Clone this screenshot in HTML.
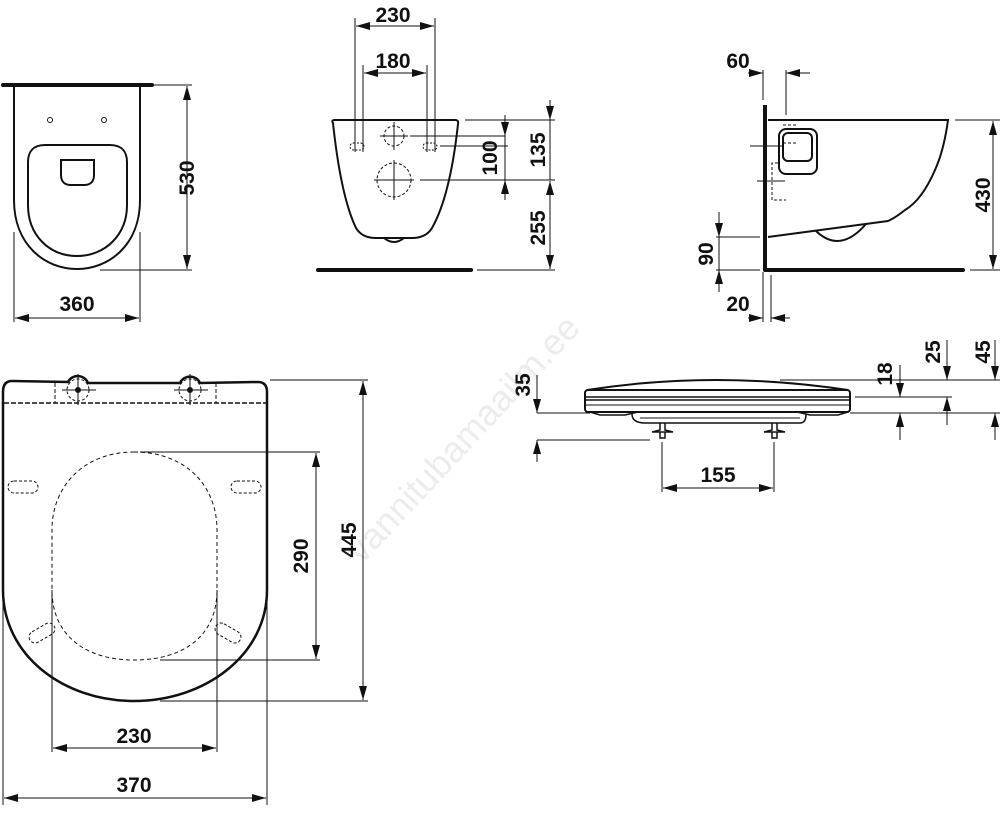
<!DOCTYPE html>
<html><head><meta charset="utf-8"><style>
html,body{margin:0;padding:0;background:#fff;}
svg{display:block}
text{font-family:"Liberation Sans",sans-serif;font-weight:bold;font-size:21px;fill:#111;}
</style></head><body>
<svg width="1000" height="815" viewBox="0 0 1000 815" xmlns="http://www.w3.org/2000/svg">
<defs>
<marker id="a" markerUnits="userSpaceOnUse" markerWidth="14" markerHeight="8" refX="14" refY="4" orient="auto"><path d="M0,0 L14,4 L0,8 Z" fill="#111"/></marker>
<marker id="b" markerUnits="userSpaceOnUse" markerWidth="14" markerHeight="8" refX="0" refY="4" orient="auto"><path d="M14,0 L0,4 L14,8 Z" fill="#111"/></marker>
</defs>
<text x="0" y="0" transform="translate(362,565) rotate(-47)" style="font-weight:normal;font-size:36px;fill:#ececec">vannitubamaailm.ee</text>
<g fill="none" stroke="#111" stroke-width="1">

<!-- ===== Top-left view ===== -->
<line x1="3" y1="85" x2="152" y2="85" stroke-width="4" stroke-linecap="round"/>
<path d="M14,87 L14,200 C14,245 45,269 77,269 C109,269 140,245 140,200 L140,87" stroke-width="2"/>
<path d="M45,145 L110,145 C122,145 127,152 127,162 L127,205 C127,235 105,256 77,256 C49,256 28,235 28,205 L28,162 C28,152 33,145 45,145 Z" stroke-width="2"/>
<path d="M61,160 L94,160 L94,175 C94,182 90,185 84,185 L71,185 C65,185 61,182 61,175 Z" stroke-width="2"/>
<circle cx="50" cy="120" r="2.5"/><circle cx="104" cy="120" r="2.5"/>
<line x1="148" y1="85" x2="192" y2="85"/>
<line x1="100" y1="270" x2="192" y2="270"/>
<line x1="187" y1="86" x2="187" y2="269" marker-start="url(#b)" marker-end="url(#a)"/>
<line x1="14" y1="232" x2="14" y2="322"/>
<line x1="140" y1="232" x2="140" y2="322"/>
<line x1="15" y1="318" x2="139" y2="318" marker-start="url(#b)" marker-end="url(#a)"/>

<!-- ===== Middle front view ===== -->
<path d="M333,123 Q331,120 335,120 L455,120 Q459,120 458,124 C453,170 445,205 432,228 Q426,238 412,238 L376,238 Q362,238 356,228 C345,205 338,170 333,123 Z" stroke-width="2"/>
<path d="M384,238 Q394,246 404,238" stroke-width="2"/>
<line x1="318" y1="270" x2="471" y2="270" stroke-width="4" stroke-linecap="round"/>
<circle cx="394" cy="136" r="10" stroke-dasharray="3,2"/>
<circle cx="394" cy="180" r="17" stroke-dasharray="3,2"/>
<line x1="380" y1="136" x2="408" y2="136"/><line x1="394" y1="122" x2="394" y2="150"/>
<line x1="374" y1="180" x2="414" y2="180"/><line x1="394" y1="160" x2="394" y2="200"/>
<rect x="350" y="143" width="14" height="7" rx="3.5" stroke-dasharray="2,1.5"/>
<rect x="423" y="143" width="14" height="7" rx="3.5" stroke-dasharray="2,1.5"/>
<line x1="355" y1="18" x2="355" y2="152"/><line x1="435" y1="18" x2="435" y2="152"/>
<line x1="363" y1="65" x2="363" y2="152"/><line x1="427" y1="65" x2="427" y2="152"/>
<line x1="356" y1="26" x2="434" y2="26" marker-start="url(#b)" marker-end="url(#a)"/>
<line x1="364" y1="73" x2="426" y2="73" marker-start="url(#b)" marker-end="url(#a)"/>
<line x1="410" y1="136" x2="505" y2="136"/>
<line x1="440" y1="146" x2="508" y2="146"/>
<line x1="420" y1="180" x2="555" y2="180"/>
<line x1="465" y1="120" x2="555" y2="120"/>
<line x1="477" y1="270" x2="555" y2="270"/>
<line x1="505" y1="115" x2="505" y2="136" marker-end="url(#a)"/>
<line x1="505" y1="200" x2="505" y2="180" marker-end="url(#a)"/>
<line x1="505" y1="136" x2="505" y2="180"/>
<line x1="550" y1="100" x2="550" y2="120" marker-end="url(#a)"/>
<line x1="550" y1="120" x2="550" y2="180"/>
<line x1="550" y1="181" x2="550" y2="269" marker-start="url(#b)" marker-end="url(#a)"/>

<!-- ===== Right side view ===== -->
<line x1="765" y1="105" x2="765" y2="270" stroke-width="4"/>
<line x1="765" y1="270" x2="963" y2="270" stroke-width="4" stroke-linecap="round"/>
<path d="M768,120 L948,120 Q944,150 935,170 Q922,200 905,210 Q895,218 888,221 L768,237" stroke-width="2"/>
<path d="M816,231 Q840,254 866,224" stroke-width="2"/>
<rect x="779" y="129" width="38" height="45" rx="7" stroke-width="2"/>
<rect x="783" y="133" width="29" height="28" rx="5" stroke-width="2"/>
<path d="M783,125 L797,125 M783,143 L797,143 M778,163 L772,163 L772,200 L786,200" stroke-dasharray="3,2"/>
<line x1="750" y1="146" x2="783" y2="146"/>
<line x1="757" y1="181" x2="785" y2="181"/>
<line x1="763" y1="70" x2="763" y2="100"/>
<line x1="786" y1="70" x2="786" y2="115"/>
<line x1="748" y1="73" x2="763" y2="73" marker-end="url(#a)"/>
<line x1="810" y1="73" x2="786" y2="73" marker-end="url(#a)"/>
<line x1="955" y1="120" x2="1000" y2="120"/>
<line x1="970" y1="270" x2="1000" y2="270"/>
<line x1="993" y1="121" x2="993" y2="269" marker-start="url(#b)" marker-end="url(#a)"/>
<line x1="716" y1="237" x2="760" y2="237"/>
<line x1="716" y1="270" x2="760" y2="270"/>
<line x1="719" y1="212" x2="719" y2="237" marker-end="url(#a)"/>
<line x1="719" y1="292" x2="719" y2="270" marker-end="url(#a)"/>
<line x1="719" y1="237" x2="719" y2="270"/>
<line x1="763" y1="272" x2="763" y2="322"/>
<line x1="771" y1="275" x2="771" y2="322"/>
<line x1="748" y1="318" x2="763" y2="318" marker-end="url(#a)"/>
<line x1="790" y1="318" x2="771" y2="318" marker-end="url(#a)"/>

<!-- ===== Seat side view ===== -->
<path d="M587,390 Q715,370 848,390" stroke-width="2"/>
<rect x="585" y="390" width="265" height="22" rx="3" stroke-width="2"/>
<line x1="585" y1="397" x2="850" y2="397" stroke-width="1.5"/>
<line x1="585" y1="400" x2="850" y2="400" stroke-width="1.5"/>
<line x1="585" y1="405" x2="850" y2="405"/>
<path d="M590,412 L600,415 L625,415 L638,412 M797,412 L810,415 L838,415 L848,412" stroke-width="1.5"/>
<path d="M632,414 Q632,423 645,423 L800,423 Q806,423 806,414" stroke-width="1.5"/>
<line x1="640" y1="418" x2="800" y2="418"/>
<path d="M660,423 L660,430 L652,432 L673,432 L665,430 L665,423 M660,432 L660,438 L665,438 L665,432" stroke-width="1.5"/>
<path d="M772,423 L772,430 L764,432 L785,432 L777,430 L777,423 M772,432 L772,438 L777,438 L777,432" stroke-width="1.5"/>
<line x1="537" y1="413" x2="590" y2="413"/>
<line x1="537" y1="440" x2="650" y2="440"/>
<line x1="537" y1="375" x2="537" y2="413" marker-end="url(#a)"/>
<line x1="537" y1="462" x2="537" y2="440" marker-end="url(#a)"/>
<line x1="662" y1="442" x2="662" y2="492"/>
<line x1="774" y1="442" x2="774" y2="492"/>
<line x1="663" y1="488" x2="773" y2="488" marker-start="url(#b)" marker-end="url(#a)"/>
<line x1="780" y1="380" x2="1000" y2="380"/>
<line x1="855" y1="397" x2="952" y2="397"/>
<line x1="850" y1="413" x2="1000" y2="413"/>
<line x1="900" y1="365" x2="900" y2="397" marker-end="url(#a)"/>
<line x1="900" y1="440" x2="900" y2="413" marker-end="url(#a)"/>
<line x1="947" y1="340" x2="947" y2="380" marker-end="url(#a)"/>
<line x1="947" y1="425" x2="947" y2="397" marker-end="url(#a)"/>
<line x1="995" y1="340" x2="995" y2="380" marker-end="url(#a)"/>
<line x1="995" y1="440" x2="995" y2="413" marker-end="url(#a)"/>

<!-- ===== Seat top view ===== -->
<path d="M3,392 Q3,381 12,381 L68,382 A11,11 0 0 1 88,383 L180,383 A11,11 0 0 1 200,383 L258,382 Q267,382 267,392 L267,590 C267,655 205,701 134,701 C63,701 3,655 3,590 Z" stroke-width="2.5"/>
<line x1="4" y1="403" x2="266" y2="403" stroke-dasharray="5,2" stroke-width="1.5"/>
<path d="M55,383 L55,403 M216,383 L216,403" stroke-dasharray="4,2"/>
<circle cx="78" cy="390" r="11" stroke-dasharray="3,2"/>
<circle cx="190" cy="390" r="11" stroke-dasharray="3,2"/>
<circle cx="78" cy="390" r="2.5" fill="#111"/><circle cx="190" cy="390" r="2.5" fill="#111"/>
<path d="M62,390 L96,390 M78,374 L78,405 M174,390 L208,390 M190,374 L190,405"/>
<path d="M134,452 C185,452 217,485 217,530 L217,590 C217,635 185,660 134,660 C85,660 52,635 52,590 L52,530 C52,485 85,452 134,452 Z" stroke-dasharray="4,3"/>
<rect x="8" y="481" width="30" height="12" rx="6" stroke-dasharray="3,2"/>
<rect x="231" y="481" width="30" height="12" rx="6" stroke-dasharray="3,2"/>
<rect x="28" y="627" width="28" height="12" rx="6" stroke-dasharray="3,2" transform="rotate(-30 42 633)"/>
<rect x="214" y="627" width="28" height="12" rx="6" stroke-dasharray="3,2" transform="rotate(30 228 633)"/>
<line x1="140" y1="452" x2="320" y2="452"/>
<line x1="160" y1="660" x2="320" y2="660"/>
<line x1="316" y1="453" x2="316" y2="659" marker-start="url(#b)" marker-end="url(#a)"/>
<line x1="270" y1="380" x2="368" y2="380"/>
<line x1="160" y1="701" x2="368" y2="701"/>
<line x1="363" y1="381" x2="363" y2="700" marker-start="url(#b)" marker-end="url(#a)"/>
<line x1="52" y1="590" x2="52" y2="752"/>
<line x1="217" y1="590" x2="217" y2="752"/>
<line x1="53" y1="748" x2="216" y2="748" marker-start="url(#b)" marker-end="url(#a)"/>
<line x1="3" y1="600" x2="3" y2="805"/>
<line x1="267" y1="600" x2="267" y2="805"/>
<line x1="4" y1="798" x2="266" y2="798" marker-start="url(#b)" marker-end="url(#a)"/>
</g>

<g text-anchor="middle">
<text x="77" y="311">360</text>
<text transform="translate(194,178) rotate(-90)">530</text>
<text x="393" y="22">230</text>
<text x="393" y="68">180</text>
<text transform="translate(497,158) rotate(-90)">100</text>
<text transform="translate(545,150) rotate(-90)">135</text>
<text transform="translate(545,228) rotate(-90)">255</text>
<text x="738" y="68">60</text>
<text x="738" y="311">20</text>
<text transform="translate(713,254) rotate(-90)">90</text>
<text transform="translate(990,195) rotate(-90)">430</text>
<text transform="translate(530,385) rotate(-90)">35</text>
<text x="718" y="482">155</text>
<text transform="translate(892,374) rotate(-90)">18</text>
<text transform="translate(940,352) rotate(-90)">25</text>
<text transform="translate(990,352) rotate(-90)">45</text>
<text transform="translate(308,556) rotate(-90)">290</text>
<text transform="translate(356,540) rotate(-90)">445</text>
<text x="134" y="743">230</text>
<text x="134" y="792">370</text>
</g>
</svg>
</body></html>
